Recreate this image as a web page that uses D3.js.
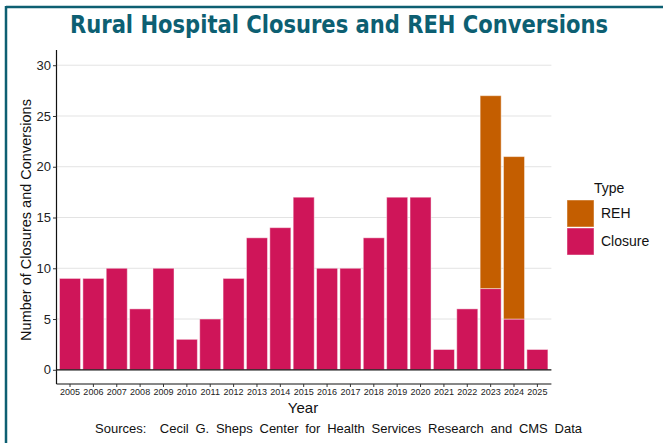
<!DOCTYPE html>
<html>
<head>
<meta charset="utf-8">
<script src="https://cdn.jsdelivr.net/npm/d3@7"></script>
<style>
  html, body { margin: 0; padding: 0; background: #ffffff; }
  svg { display: block; }
</style>
</head>
<body>
<svg id="chart" width="663" height="443"></svg>
<script>
// ---- data ----
const years = ["2005","2006","2007","2008","2009","2010","2011","2012","2013","2014","2015",
               "2016","2017","2018","2019","2020","2021","2022","2023","2024","2025"];
const closures = [9, 9, 10, 6, 10, 3, 5, 9, 13, 14, 17, 10, 10, 13, 17, 17, 2, 6, 8, 5, 2];
const rehConversions = [0, 0, 0, 0, 0, 0, 0, 0, 0, 0, 0, 0, 0, 0, 0, 0, 0, 0, 19, 16, 0];
const yTicks = [0, 5, 10, 15, 20, 25, 30];
const seriesNames = ["REH", "Closure"];
const seriesColors = ["#c45e00", "#cf1559"];

const titleText = "Rural Hospital Closures and REH Conversions";
const xTitle = "Year";
const yTitle = "Number of Closures and Conversions";
const captionText = "Sources:  Cecil G. Sheps Center for Health Services Research and CMS Data";

// ---- layout ----
const svg = d3.select("#chart");
const teal = "#0d5f72";
const plot = { left: 56.5, right: 551.4, top: 50, bottom: 384 };

// frame
svg.append("line").attr("x1", 6).attr("x2", 663).attr("y1", 7).attr("y2", 7)
  .attr("stroke", teal).attr("stroke-width", 2.5);
svg.append("line").attr("x1", 6).attr("x2", 6).attr("y1", 6).attr("y2", 443)
  .attr("stroke", teal).attr("stroke-width", 2.5);

// title (condensed look)
svg.append("text").attr("x", 70).attr("y", 33)
  .attr("font-family", "'DejaVu Sans Condensed', 'Liberation Sans Narrow', sans-serif")
  .attr("font-weight", "bold").attr("font-size", 25).attr("fill", teal)
  .attr("textLength", 538).attr("lengthAdjust", "spacingAndGlyphs")
  .text(titleText);

const x = d3.scaleBand().domain(years).range([plot.left - 0.5, plot.right])
  .paddingInner(0.1).paddingOuter(0.15);
const y = d3.scaleLinear().domain([-1.4, 31.5]).range([plot.bottom, plot.top]);

// gridlines
svg.append("g").selectAll("line").data(yTicks.filter(d => d > 0)).join("line")
  .attr("x1", plot.left).attr("x2", plot.right)
  .attr("y1", d => y(d)).attr("y2", d => y(d))
  .attr("stroke", "#e3e3e3").attr("stroke-width", 1);

// stacked bars
const rows = years.map((yr, i) => ({ year: yr, Closure: closures[i], REH: rehConversions[i] }));
const stack = d3.stack().keys(["Closure", "REH"])(rows);
const color = d3.scaleOrdinal().domain(seriesNames).range(seriesColors);

svg.append("g").selectAll("g").data(stack).join("g")
  .attr("fill", d => color(d.key))
  .selectAll("rect").data(d => d.filter(p => p[1] - p[0] > 0)).join("rect")
  .attr("x", d => x(d.data.year))
  .attr("width", x.bandwidth())
  .attr("y", d => y(d[1]))
  .attr("height", d => y(d[0]) - y(d[1]))
  .attr("stroke", "rgba(255,255,255,0.45)").attr("stroke-width", 1);

// zero line
svg.append("line").attr("x1", plot.left).attr("x2", plot.right)
  .attr("y1", y(0)).attr("y2", y(0)).attr("stroke", "#111").attr("stroke-width", 1.3);

// y axis
const yAxis = svg.append("g").attr("transform", `translate(${plot.left},0)`)
  .call(d3.axisLeft(y).tickValues(yTicks).tickSize(3.5).tickPadding(2));
yAxis.select(".domain").attr("d", `M0,${plot.top}V${plot.bottom}`).attr("stroke", "#111").attr("stroke-width", 1.2);
yAxis.selectAll(".tick line").attr("stroke", "#333");
yAxis.selectAll("text").attr("font-family", "'Liberation Sans', Arial, sans-serif")
  .attr("font-size", 13).attr("fill", "#222");

// x axis
const xAxis = svg.append("g").attr("transform", `translate(0,${plot.bottom})`)
  .call(d3.axisBottom(x).tickSize(3).tickPadding(1.5));
xAxis.select(".domain").attr("d", `M${plot.left},0H${plot.right}`).attr("stroke", "#111").attr("stroke-width", 1.2);
xAxis.selectAll(".tick line").attr("stroke", "#333");
xAxis.selectAll("text").attr("font-family", "'Liberation Sans', Arial, sans-serif")
  .attr("font-size", 9).attr("fill", "#222");

// axis titles
svg.append("text").attr("x", 303).attr("y", 413).attr("text-anchor", "middle")
  .attr("font-family", "'Liberation Sans', Arial, sans-serif").attr("font-size", 15).attr("fill", "#111")
  .text(xTitle);
svg.append("text").attr("transform", "translate(31,220) rotate(-90)").attr("text-anchor", "middle")
  .attr("font-family", "'Liberation Sans', Arial, sans-serif").attr("font-size", 14.5).attr("fill", "#111")
  .text(yTitle);

// caption with stretched word spacing
const cap = svg.append("text").attr("x", 95).attr("y", 433)
  .attr("font-family", "'Liberation Sans', Arial, sans-serif").attr("font-size", 13).attr("fill", "#111")
  .attr("xml:space", "preserve").style("white-space", "pre")
  .text(captionText);
const capLen = cap.node().getComputedTextLength();
const nSpaces = (captionText.match(/ /g) || []).length;
cap.attr("word-spacing", Math.max(0, (487 - capLen) / nSpaces));

// legend
const lg = svg.append("g");
lg.append("text").attr("x", 594).attr("y", 193)
  .attr("font-family", "'Liberation Sans', Arial, sans-serif").attr("font-size", 14).attr("fill", "#111")
  .text("Type");
seriesNames.forEach((name, i) => {
  const yy = 200 + i * 28;
  lg.append("rect").attr("x", 567).attr("y", yy).attr("width", 27).attr("height", 27)
    .attr("fill", color(name)).attr("stroke", "rgba(255,255,255,0.45)");
  lg.append("text").attr("x", 601).attr("y", yy + 13.5).attr("dy", "0.35em")
    .attr("font-family", "'Liberation Sans', Arial, sans-serif").attr("font-size", 14).attr("fill", "#111")
    .text(name);
});
</script>
</body>
</html>
